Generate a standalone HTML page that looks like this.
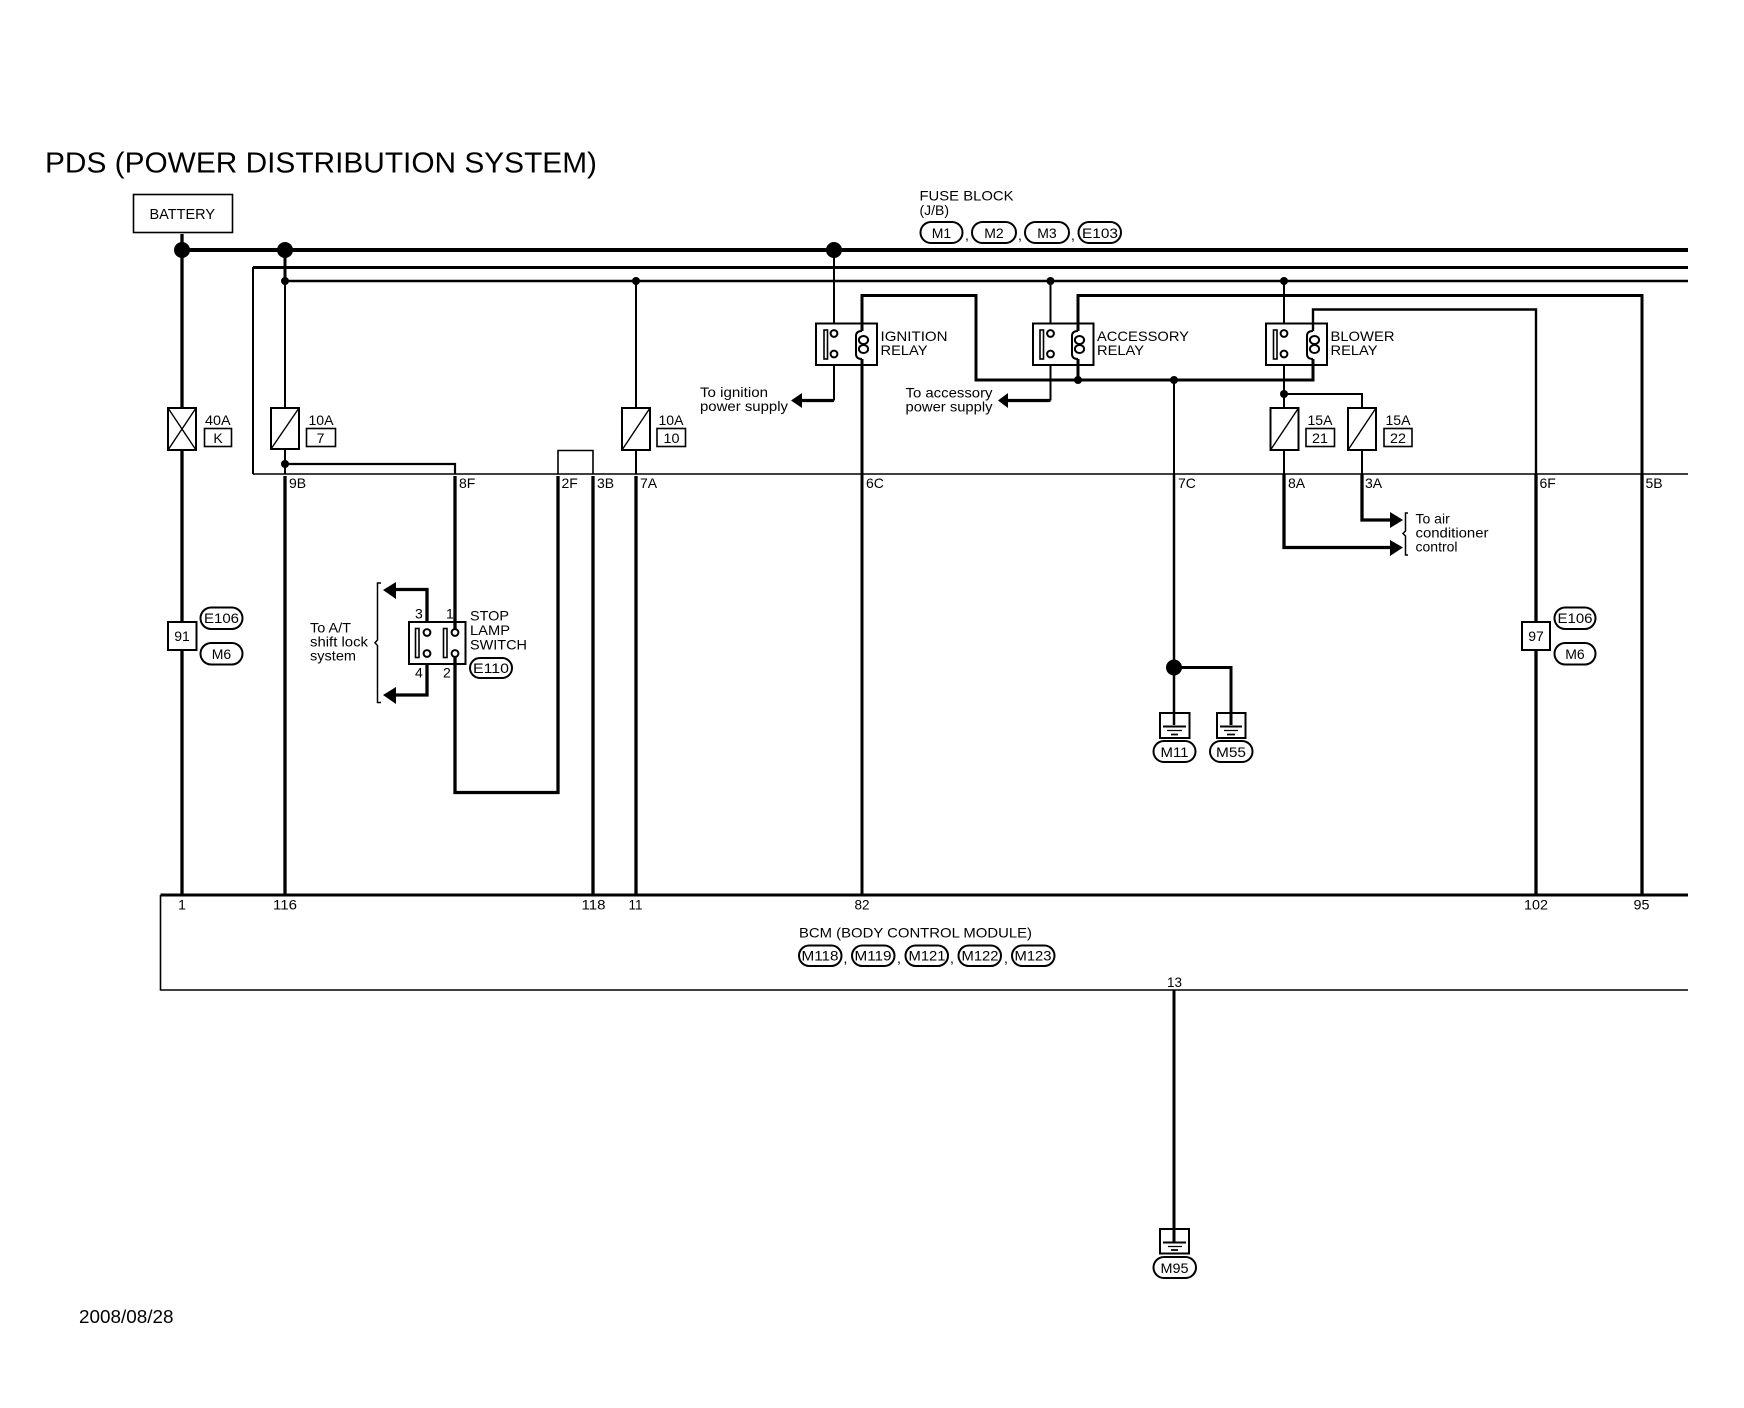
<!DOCTYPE html>
<html><head><meta charset="utf-8"><style>
html,body{margin:0;padding:0;background:#fff}
svg{display:block}
text{font-family:"Liberation Sans",sans-serif;font-size:14px;fill:#000}
.m{text-anchor:middle}
.p{fill:#fff;stroke:#000;stroke-width:2}
.w{fill:none;stroke:#000;stroke-miterlimit:10}
</style></head><body>
<svg xmlns="http://www.w3.org/2000/svg" width="1744" height="1408" viewBox="0 0 1744 1408">
<rect width="1744" height="1408" fill="#fff"/>
<text x="45" y="172.7" style="font-size:29px" textLength="552" lengthAdjust="spacingAndGlyphs">PDS (POWER DISTRIBUTION SYSTEM)</text>
<rect x="133.5" y="194.5" width="99" height="38" class="p" style="fill:none;stroke-width:1.6"/>
<text x="149.5" y="219" style="font-size:15px" textLength="65.5" lengthAdjust="spacingAndGlyphs">BATTERY</text>

<!-- buses -->
<g class="w">
<path d="M182 250H1688" stroke-width="4"/>
<path d="M1688 267.5H253" stroke-width="3"/>
<path d="M253 267V474" stroke-width="2"/>
<path d="M253 474H1688" stroke-width="1.5"/>
<path d="M285 281H1688" stroke-width="2.5"/>
<path d="M182 234V895" stroke-width="3.3"/>
<path d="M285 250V281" stroke-width="3"/>
<path d="M285 281V474" stroke-width="2"/>
<path d="M285 476V895" stroke-width="3.3"/>
<path d="M285 464H455V474" stroke-width="2.2"/>
<path d="M455 476V630" stroke-width="3.3"/>
<path d="M455 656V792.5H558V476" stroke-width="3.3"/>
<path d="M558 474V450.5H593V474" stroke-width="1.6"/>
<path d="M593 476V895" stroke-width="3.3"/>
<path d="M636 281V474" stroke-width="2"/>
<path d="M636 476V895" stroke-width="3.3"/>
<path d="M834 250V323" stroke-width="2"/>
<path d="M834 365V400.5" stroke-width="2"/>
<path d="M834 400.5H801" stroke-width="3.3"/>
<path d="M862 359V895" stroke-width="3"/>
<path d="M862 331V295.5H976V380H1313V359" stroke-width="3"/>
<path d="M1078 331V295.5H1642V474" stroke-width="3"/>
<path d="M1642 474V895" stroke-width="3.3"/>
<path d="M1078 359V380" stroke-width="3"/>
<path d="M1050.5 281V323M1050.5 365V400.5" stroke-width="2"/>
<path d="M1050.5 400.5H1007" stroke-width="3.3"/>
<path d="M1174 380V474" stroke-width="2"/>
<path d="M1174 474V725" stroke-width="2.5"/>
<path d="M1174 667.5H1231V725" stroke-width="3"/>
<path d="M1313 331V309.5H1536V474" stroke-width="2.4"/>
<path d="M1536 474V895" stroke-width="3.3"/>
<path d="M1284 281V323M1284 365V408" stroke-width="2"/>
<path d="M1284 394H1362V408" stroke-width="2"/>
<path d="M1284 450V474M1362 450V474" stroke-width="2"/>
<path d="M1284 474V547.5H1392" stroke-width="3.3"/>
<path d="M1362 474V520H1392" stroke-width="3.3"/>
<path d="M427 622V589.5H395" stroke-width="3.3"/>
<path d="M427 664V695H395" stroke-width="3.3"/>
<path d="M1174 990V1242" stroke-width="3"/>
<path d="M160.5 895H1688" stroke-width="3"/>
<path d="M160.5 895V990H1688" stroke-width="1.6"/>
</g>

<!-- junctions -->
<g fill="#000">
<circle cx="182" cy="250" r="8"/><circle cx="285" cy="250" r="8"/><circle cx="834" cy="250" r="8"/>
<circle cx="285" cy="281" r="4"/><circle cx="636" cy="281" r="4"/><circle cx="1050.5" cy="281" r="4"/><circle cx="1284" cy="281" r="4"/>
<circle cx="285" cy="464" r="4"/><circle cx="1078" cy="380" r="4"/><circle cx="1174" cy="380" r="4"/><circle cx="1284" cy="394" r="4"/>
<circle cx="1174" cy="667.5" r="8"/>
<!-- arrows -->
<path d="M791 400.5L802 393V408Z"/><path d="M998 400.5L1008 393V408Z"/>
<path d="M1403 520L1390 512V528Z"/><path d="M1403 547.5L1390 540V556Z"/>
<path d="M383 590L396 582V599Z"/><path d="M383 695L396 687V704Z"/>
</g>

<!-- fuses -->
<g class="p">
<rect x="168" y="408" width="28" height="42"/><path d="M168 408L196 450M196 408L168 450" stroke-width="1.4"/>
<rect x="271" y="408" width="28" height="41"/><path d="M271 449L299 408" stroke-width="1.4"/>
<rect x="622" y="408" width="28" height="42"/><path d="M622 450L650 408" stroke-width="1.4"/>
<rect x="1270.5" y="408" width="28" height="42"/><path d="M1270.5 450L1298.5 408" stroke-width="1.4"/>
<rect x="1348" y="408" width="28" height="42"/><path d="M1348 450L1376 408" stroke-width="1.4"/>
</g>
<g style="stroke:#000;stroke-width:1.6;fill:none">
<rect x="204.5" y="428.5" width="27" height="18"/>
<rect x="306.5" y="428.5" width="29" height="18"/>
<rect x="657" y="428.5" width="28.5" height="18"/>
<rect x="1306" y="428.5" width="28.5" height="18"/>
<rect x="1384" y="428.5" width="28" height="18"/>
</g>
<text x="205" y="425" textLength="25.6" lengthAdjust="spacingAndGlyphs">40A</text>
<text x="218" y="443" class="m">K</text>
<text x="308.5" y="425" textLength="25" lengthAdjust="spacingAndGlyphs">10A</text>
<text x="320.5" y="443" class="m">7</text>
<text x="658.5" y="425" textLength="25" lengthAdjust="spacingAndGlyphs">10A</text>
<text x="671.5" y="443" class="m" textLength="16" lengthAdjust="spacingAndGlyphs">10</text>
<text x="1307.5" y="425" textLength="25" lengthAdjust="spacingAndGlyphs">15A</text>
<text x="1320" y="443" class="m" textLength="16" lengthAdjust="spacingAndGlyphs">21</text>
<text x="1385.5" y="425" textLength="25" lengthAdjust="spacingAndGlyphs">15A</text>
<text x="1398" y="443" class="m" textLength="16" lengthAdjust="spacingAndGlyphs">22</text>

<!-- relays -->
<g fill="none" stroke="#000" stroke-width="2">
<rect x="816" y="323.5" width="61" height="41.5"/>
<rect x="1033" y="323.5" width="60.5" height="41.5"/>
<rect x="1266" y="323.5" width="61" height="41.5"/>
<rect x="824" y="330" width="3.5" height="29" stroke-width="1.6"/>
<rect x="1040" y="330" width="3.5" height="29" stroke-width="1.6"/>
<rect x="1273.5" y="330" width="3.5" height="29" stroke-width="1.6"/>
</g>
<g fill="#fff" stroke="#000" stroke-width="2">
<circle cx="834" cy="333.5" r="3.4"/><circle cx="834" cy="354" r="3.4"/>
<circle cx="1050.5" cy="333.5" r="3.4"/><circle cx="1050.5" cy="354" r="3.4"/>
<circle cx="1284" cy="333.5" r="3.4"/><circle cx="1284" cy="354" r="3.4"/>
<path d="M862 331Q856 331 856 336V354Q856 359 862 359" fill="none"/>
<path d="M1078 331Q1072 331 1072 336V354Q1072 359 1078 359" fill="none"/>
<path d="M1313 331Q1307 331 1307 336V354Q1307 359 1313 359" fill="none"/>
<ellipse cx="863.5" cy="340" rx="4.6" ry="4"/><ellipse cx="863.5" cy="349" rx="4.6" ry="4"/>
<ellipse cx="1079.5" cy="340" rx="4.6" ry="4"/><ellipse cx="1079.5" cy="349" rx="4.6" ry="4"/>
<ellipse cx="1314.5" cy="340" rx="4.6" ry="4"/><ellipse cx="1314.5" cy="349" rx="4.6" ry="4"/>
</g>
<text x="880.5" y="341" textLength="67" lengthAdjust="spacingAndGlyphs">IGNITION</text><text x="880.5" y="355" textLength="47" lengthAdjust="spacingAndGlyphs">RELAY</text>
<text x="1097" y="341" textLength="92" lengthAdjust="spacingAndGlyphs">ACCESSORY</text><text x="1097" y="355" textLength="47" lengthAdjust="spacingAndGlyphs">RELAY</text>
<text x="1330.5" y="341" textLength="64" lengthAdjust="spacingAndGlyphs">BLOWER</text><text x="1330.5" y="355" textLength="47" lengthAdjust="spacingAndGlyphs">RELAY</text>
<text x="700" y="397" textLength="68" lengthAdjust="spacingAndGlyphs">To ignition</text><text x="700" y="411" textLength="88" lengthAdjust="spacingAndGlyphs">power supply</text>
<text x="905.5" y="397.5" textLength="87" lengthAdjust="spacingAndGlyphs">To accessory</text><text x="905.5" y="411.5" textLength="87" lengthAdjust="spacingAndGlyphs">power supply</text>

<!-- fuse block label -->
<text x="919.5" y="200.7" textLength="94" lengthAdjust="spacingAndGlyphs">FUSE BLOCK</text>
<text x="919.5" y="215">(J/B)</text>
<g class="p" style="fill:none">
<rect x="920.5" y="222" width="42" height="21" rx="10.5"/>
<rect x="972" y="222" width="44" height="21" rx="10.5"/>
<rect x="1025" y="222" width="44" height="21" rx="10.5"/>
<rect x="1078.5" y="222" width="42.5" height="21" rx="10.5"/>
</g>
<text x="941.5" y="238" class="m">M1</text><text x="994" y="238" class="m">M2</text><text x="1047" y="238" class="m">M3</text>
<text x="1100" y="238" class="m" textLength="36" lengthAdjust="spacingAndGlyphs">E103</text>
<text x="965" y="240">,</text><text x="1018" y="240">,</text><text x="1071" y="240">,</text>

<!-- connector labels -->
<text x="289" y="488">9B</text><text x="459" y="488">8F</text><text x="561.5" y="488">2F</text><text x="597" y="488">3B</text><text x="640" y="488">7A</text>
<text x="866" y="488">6C</text><text x="1178" y="488">7C</text><text x="1288" y="488">8A</text><text x="1365" y="488">3A</text><text x="1539.5" y="488">6F</text><text x="1645.5" y="488">5B</text>

<!-- air con -->
<path d="M1408 513H1405.5V531L1403 533.5L1405.5 536V555H1408" fill="none" stroke="#000" stroke-width="1.5"/>
<text x="1415.5" y="523.5">To air</text><text x="1415.5" y="537.7" textLength="73" lengthAdjust="spacingAndGlyphs">conditioner</text><text x="1415.5" y="551.7">control</text>

<!-- connector boxes -->
<rect x="168" y="622" width="28.5" height="28" class="p"/><text x="182" y="641" class="m">91</text>
<rect x="1522" y="622" width="28" height="28" class="p"/><text x="1536" y="641" class="m">97</text>
<g class="p" style="fill:none">
<rect x="200.5" y="607.5" width="42" height="21.5" rx="10.7"/>
<rect x="200.5" y="643" width="42" height="21.5" rx="10.7"/>
<rect x="1554.5" y="607.5" width="41" height="21.5" rx="10.7"/>
<rect x="1554.5" y="643" width="41" height="21.5" rx="10.7"/>
</g>
<text x="221.5" y="623" class="m" textLength="35" lengthAdjust="spacingAndGlyphs">E106</text><text x="221.5" y="659" class="m">M6</text>
<text x="1575" y="623" class="m" textLength="35" lengthAdjust="spacingAndGlyphs">E106</text><text x="1575" y="659" class="m">M6</text>

<!-- stop lamp switch -->
<rect x="409" y="622" width="56.5" height="42" fill="none" stroke="#000" stroke-width="2"/>
<g fill="none" stroke="#000" stroke-width="1.6">
<rect x="415.5" y="628.5" width="3.5" height="29"/>
<rect x="443.5" y="628.5" width="3.5" height="29"/>
</g>
<g fill="#fff" stroke="#000" stroke-width="2">
<circle cx="427" cy="632.5" r="3.4"/><circle cx="427" cy="653.5" r="3.4"/>
<circle cx="455" cy="632.5" r="3.4"/><circle cx="455" cy="653.5" r="3.4"/>
</g>
<text x="415" y="618.5">3</text><text x="446" y="618.5">1</text><text x="415" y="677.5">4</text><text x="443" y="677.5">2</text>
<text x="470" y="620.7" textLength="39" lengthAdjust="spacingAndGlyphs">STOP</text><text x="470" y="635" textLength="40" lengthAdjust="spacingAndGlyphs">LAMP</text><text x="470" y="649.3" textLength="57" lengthAdjust="spacingAndGlyphs">SWITCH</text>
<rect x="470" y="658" width="42" height="20" rx="10" fill="none" stroke="#000" stroke-width="2"/>
<text x="491" y="673" class="m" textLength="36" lengthAdjust="spacingAndGlyphs">E110</text>
<path d="M381 583H377.5V640L375 642.7L377.5 645.5V702.5H381" fill="none" stroke="#000" stroke-width="1.5"/>
<text x="310" y="632.3" textLength="41" lengthAdjust="spacingAndGlyphs">To A/T</text><text x="310" y="646.7" textLength="58" lengthAdjust="spacingAndGlyphs">shift lock</text><text x="310" y="660.7" textLength="46" lengthAdjust="spacingAndGlyphs">system</text>

<!-- grounds -->
<g fill="#fff" stroke="#000" stroke-width="2">
<rect x="1160" y="713" width="29.5" height="25" style="fill:none"/>
<rect x="1217" y="713" width="28.5" height="25" style="fill:none"/>
<rect x="1160" y="1229" width="29" height="24.5" style="fill:none"/>
<rect x="1153.5" y="741" width="42" height="21" rx="10.5" style="fill:none"/>
<rect x="1210" y="741" width="42.5" height="21" rx="10.5" style="fill:none"/>
<rect x="1153.5" y="1257" width="42.5" height="21" rx="10.5" style="fill:none"/>
</g>
<g stroke="#000" fill="none">
<path d="M1163 726.5H1186M1220 726.5H1242M1163 1242.5H1186" stroke-width="2"/>
<path d="M1167 730.5H1182M1224 730.5H1238M1168 1246.5H1182" stroke-width="1.2"/>
<path d="M1171 734.5H1178M1227 734.5H1235M1171 1250H1178" stroke-width="1.8"/>
</g>
<text x="1174.5" y="757" class="m" textLength="28" lengthAdjust="spacingAndGlyphs">M11</text>
<text x="1231" y="757" class="m" textLength="30" lengthAdjust="spacingAndGlyphs">M55</text>
<text x="1174.5" y="1273" class="m" textLength="28" lengthAdjust="spacingAndGlyphs">M95</text>

<!-- BCM -->
<text x="182" y="909.5" class="m">1</text><text x="285" y="909.5" class="m" textLength="24" lengthAdjust="spacingAndGlyphs">116</text>
<text x="593.5" y="909.5" class="m" textLength="24" lengthAdjust="spacingAndGlyphs">118</text><text x="635.5" y="909.5" class="m" textLength="14" lengthAdjust="spacingAndGlyphs">11</text>
<text x="862" y="909.5" class="m" textLength="15" lengthAdjust="spacingAndGlyphs">82</text><text x="1536" y="909.5" class="m" textLength="24" lengthAdjust="spacingAndGlyphs">102</text>
<text x="1641.5" y="909.5" class="m" textLength="16" lengthAdjust="spacingAndGlyphs">95</text>
<text x="799" y="937.5" textLength="233" lengthAdjust="spacingAndGlyphs">BCM (BODY CONTROL MODULE)</text>
<g fill="none" stroke="#000" stroke-width="2">
<rect x="799" y="945.5" width="42.5" height="20.5" rx="10.2"/>
<rect x="852" y="945.5" width="42.5" height="20.5" rx="10.2"/>
<rect x="905.5" y="945.5" width="42.5" height="20.5" rx="10.2"/>
<rect x="958.5" y="945.5" width="42.5" height="20.5" rx="10.2"/>
<rect x="1012" y="945.5" width="42.5" height="20.5" rx="10.2"/>
</g>
<text x="820" y="960.5" class="m" textLength="37" lengthAdjust="spacingAndGlyphs">M118</text>
<text x="873" y="960.5" class="m" textLength="37" lengthAdjust="spacingAndGlyphs">M119</text>
<text x="927" y="960.5" class="m" textLength="37" lengthAdjust="spacingAndGlyphs">M121</text>
<text x="980" y="960.5" class="m" textLength="37" lengthAdjust="spacingAndGlyphs">M122</text>
<text x="1033" y="960.5" class="m" textLength="37" lengthAdjust="spacingAndGlyphs">M123</text>
<text x="843.5" y="963">,</text><text x="897" y="963">,</text><text x="950" y="963">,</text><text x="1004" y="963">,</text>
<rect x="1164" y="975" width="20" height="13" fill="#fff"/>
<text x="1174.5" y="987" class="m" textLength="15" lengthAdjust="spacingAndGlyphs">13</text>

<text x="79" y="1323" style="font-size:18px" textLength="94.5" lengthAdjust="spacingAndGlyphs">2008/08/28</text>
</svg>
</body></html>
